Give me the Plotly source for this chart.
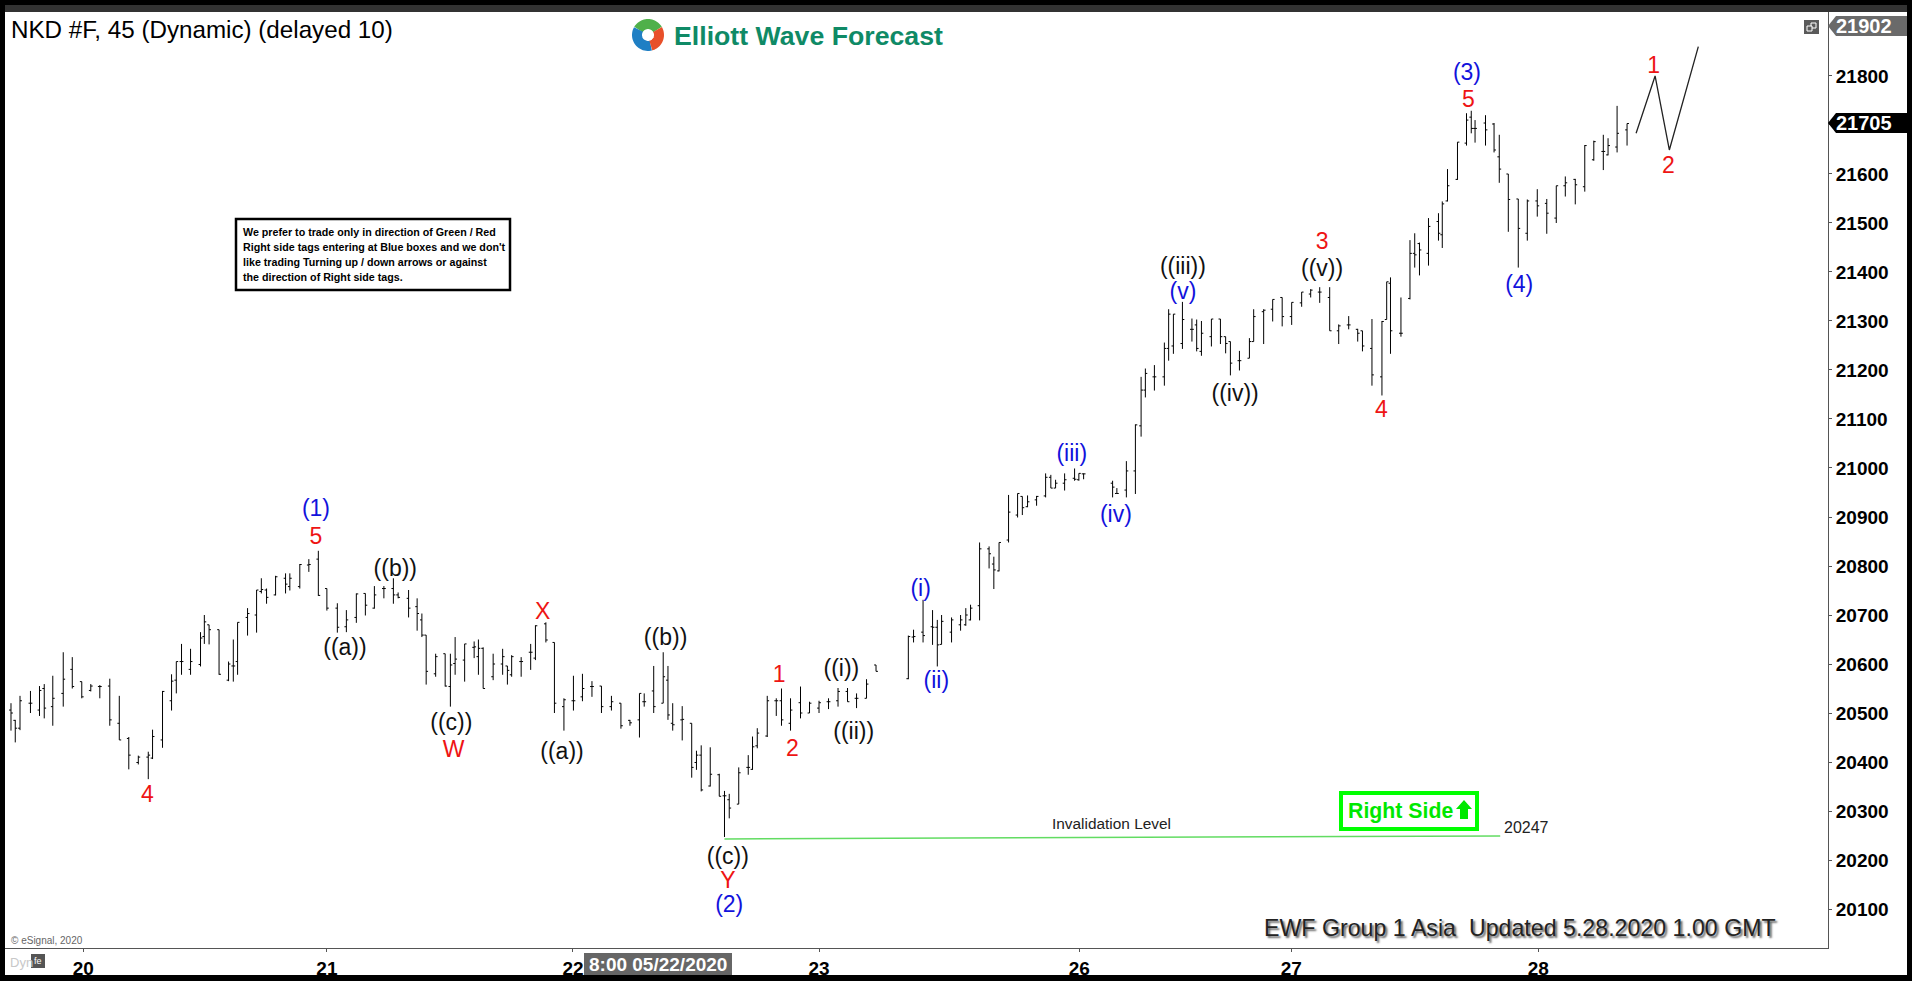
import math
import plotly.graph_objects as go

# ---------- data ----------
bar_x = [2.0,2.9,3.9,6.1,8.0,9.0,10.8,13.0,14.9,16.9,18.8,20.7,22.8,24.8,26.8,28.8,30.9,31.8,33.9,35.8,36.8,37.9,39.8,41.9,42.7,43.7,45.8,47.8,48.8,49.7,51.8,53.7,54.7,55.8,57.7,59.8,60.7,62.8,64.7,66.7,68.5,70.7,72.6,74.7,76.6,78.5,80.5,82.5,83.5,
85.7,87.5,88.5,89.4,91.4,93.4,94.5,95.5,97.5,99.5,100.4,101.4,103.5,105.5,106.5,107.4,109.4,111.4,112.4,114.6,116.4,118.4,120.4,122.3,124.3,126.3,128.4,130.4,132.3,134.3,135.3,137.3,139.3,140.3,141.3,143.3,145.3,146.3,147.3,149.2,151.1,152.2,153.2,155.2,157.2,158.1,159.1,161.2,163.1,164.2,166.1,
168.2,170.1,172.1,174.1,176.1,178.1,180.0,182.1,184.1,190.9,192.0,194.0,196.0,197.0,197.9,200.0,201.9,203.0,204.0,205.9,207.9,208.9,210.0,212.0,213.9,214.9,216.0,217.9,219.8,220.9,221.9,223.8,225.9,226.8,227.8,233.9,234.8,236.8,238.7,
239.9,240.8,242.7,244.8,245.7,246.7,248.6,250.6,251.6,252.6,254.7,256.6,257.7,258.7,260.6,262.7,263.6,265.7,267.6,269.6,271.6,273.7,275.6,277.5,279.6,281.5,283.6,285.5,286.5,288.5,290.6,291.6,292.4,294.6,296.5,297.5,298.5,
300.4,302.5,303.3,304.4,306.5,308.4,309.4,310.2,312.4,314.2,315.3,317.2,319.3,321.2,323.3,325.3,327.3,329.2,331.3,333.3,335.2,337.2,338.2,340.1,342.2]

bar_open = [20506,20485,20469,20520,20506,20550,20513,20540,20589,20564,20546,20554,20555,20479,20448,20399,20410,20408,20445,20525,20567,20605,20589,20599,20656,20680,20670,20567,20596,20605,20695,20700,20748,20751,20741,20775,20758,20758,20802,20814,20754,20714,20676,20695,20744,20714,20754,20754,20741,
20734,20717,20690,20659,20580,20621,20554,20601,20608,20634,20615,20632,20574,20600,20596,20578,20605,20624,20612,20682,20644,20513,20525,20533,20554,20555,20513,20520,20485,20486,20523,20545,20520,20567,20479,20486,20479,20399,20414,20351,20374,20331,20323,20314,20389,20385,20433,20453,20525,20525,20479,
20521,20500,20510,20523,20525,20544,20530,20530,20598,20570,20655,20665,20676,20675,20640,20665,20680,20680,20690,20719,20835,20804,20790,20853,20904,20942,20921,20935,20943,20981,20959,20969,20979,20976,20988,20969,20948,20955,20994,
21086,21159,21186,21186,21244,21249,21254,21283,21292,21238,21268,21304,21268,21258,21219,21224,21258,21319,21324,21348,21309,21337,21355,21359,21348,21280,21292,21283,21280,21244,21186,21303,21377,21275,21346,21438,21458,
21438,21503,21476,21545,21589,21663,21716,21693,21704,21702,21635,21600,21549,21479,21545,21540,21510,21576,21589,21574,21629,21646,21639,21655,21690]

bar_high = [20520,20486,20535,20545,20555,20559,20576,20624,20614,20564,20559,20557,20570,20535,20451,20413,20421,20466,20545,20579,20605,20641,20631,20665,20700,20680,20670,20605,20650,20685,20714,20751,20775,20754,20780,20785,20785,20804,20814,20831,20754,20724,20710,20744,20744,20759,20759,20775,20746,
20751,20734,20703,20659,20621,20621,20621,20655,20641,20646,20650,20634,20621,20631,20596,20618,20614,20641,20679,20685,20644,20530,20576,20580,20565,20555,20535,20520,20486,20540,20540,20596,20624,20596,20520,20514,20479,20423,20434,20430,20376,20341,20335,20389,20414,20452,20469,20535,20530,20550,20530,
20554,20523,20525,20530,20551,20551,20540,20569,20598,20658,20670,20731,20710,20690,20700,20695,20700,20714,20721,20848,20840,20819,20848,20945,20948,20942,20944,20943,20989,20986,20976,20989,20999,20989,20989,20974,20959,21014,21089,
21186,21203,21210,21256,21324,21314,21339,21305,21303,21300,21304,21304,21268,21258,21239,21265,21324,21324,21344,21348,21338,21359,21365,21369,21369,21293,21310,21284,21280,21304,21300,21380,21389,21348,21465,21479,21460,
21510,21520,21544,21610,21665,21724,21729,21710,21720,21704,21680,21600,21549,21548,21569,21549,21576,21595,21590,21659,21668,21680,21673,21739,21703]

bar_low = [20464,20440,20465,20500,20494,20489,20474,20513,20550,20530,20544,20530,20474,20445,20385,20395,20365,20406,20429,20505,20540,20578,20578,20595,20641,20640,20578,20565,20564,20578,20658,20664,20744,20723,20740,20744,20750,20754,20788,20739,20709,20664,20665,20684,20699,20713,20734,20723,20734,
20695,20668,20655,20558,20574,20554,20513,20578,20564,20612,20578,20550,20567,20578,20558,20574,20574,20588,20608,20644,20500,20464,20505,20524,20533,20500,20505,20468,20474,20450,20513,20500,20520,20486,20464,20444,20368,20384,20340,20350,20330,20247,20285,20314,20374,20384,20428,20451,20494,20474,20464,
20489,20500,20500,20508,20513,20523,20510,20530,20585,20569,20644,20644,20639,20595,20640,20644,20668,20678,20689,20689,20795,20753,20789,20848,20899,20904,20920,20923,20940,20959,20959,20954,20974,20974,20977,20940,20948,20940,20947,
21064,21144,21158,21168,21219,21233,21243,21258,21238,21229,21248,21253,21234,21189,21199,21224,21258,21253,21299,21289,21292,21329,21348,21337,21280,21253,21283,21258,21238,21168,21148,21303,21233,21268,21344,21409,21393,
21413,21464,21449,21544,21588,21658,21683,21664,21658,21644,21582,21482,21409,21464,21513,21478,21500,21554,21538,21564,21627,21608,21638,21644,21658]

bar_close = [20500,20469,20525,20520,20546,20510,20530,20569,20554,20533,20555,20554,20486,20445,20414,20410,20414,20452,20544,20565,20605,20605,20605,20653,20686,20670,20579,20600,20596,20685,20703,20751,20752,20736,20778,20763,20775,20803,20803,20740,20714,20675,20690,20743,20720,20741,20754,20741,20736,
20714,20703,20659,20585,20615,20555,20598,20610,20641,20635,20632,20550,20600,20615,20587,20615,20605,20624,20678,20649,20520,20527,20525,20550,20554,20513,20523,20474,20480,20540,20523,20513,20574,20496,20476,20487,20389,20414,20343,20375,20330,20331,20306,20378,20389,20431,20459,20525,20525,20486,20506,
20500,20520,20521,20523,20544,20523,20530,20559,20585,20656,20656,20658,20675,20639,20687,20690,20690,20700,20714,20835,20825,20792,20848,20910,20948,20919,20931,20942,20981,20959,20969,20976,20977,20989,20988,20961,20948,20994,21088,
21159,21193,21186,21244,21314,21314,21303,21283,21244,21275,21304,21268,21254,21214,21219,21258,21309,21322,21344,21309,21338,21359,21363,21359,21280,21290,21292,21275,21249,21190,21299,21380,21280,21275,21438,21435,21445,
21493,21479,21539,21576,21665,21710,21693,21693,21690,21649,21610,21548,21489,21545,21535,21520,21576,21582,21578,21658,21666,21646,21658,21683,21703]

forecast_x = [344.1, 348.1, 351.1, 357.2]
forecast_y = [21683, 21800, 21649, 21860]

invalidation_x = [152.2, 315.5]
invalidation_y = [20243, 20249]

day_positions = [17.2, 68.5, 120.3, 172.1, 226.9, 271.5, 323.5]
day_labels = ["20", "21", "22", "23", "26", "27", "28"]
price_ticks = [20100,20200,20300,20400,20500,20600,20700,20800,20900,21000,21100,21200,21300,21400,21500,21600,21700,21800]

wave_text = ["(1)","5","4","((a))","((b))","((c))","W","X","((a))","((b))","((c))","Y","(2)","1","2","((i))","((ii))","(i)","(ii)","(iii)","(iv)","((iii))","(v)","((iv))","3","((v))","4","5","(3)","(4)","1","2"]
wave_x = [66.2,66.2,30.7,72.3,82.9,94.7,95.2,113.9,118.0,139.8,152.9,152.9,153.2,163.7,166.5,176.8,179.4,193.5,196.8,225.3,234.6,248.7,248.7,259.7,278.0,278.0,290.5,308.8,308.5,319.5,347.8,350.9]
wave_y = [20913,20856,20331,20630,20791,20478,20421,20704,20418,20650,20204,20155,20105,20575,20423,20587,20458,20751,20562,21025,20901,21408,21356,21149,21458,21403,21115,21749,21803,21371,21818,21614]
BLUE, RED, BLACK = "#1212dc", "#ee1414", "#111111"
wave_color = [BLUE,RED,RED,BLACK,BLACK,BLACK,RED,RED,BLACK,BLACK,BLACK,RED,BLUE,RED,RED,BLACK,BLACK,BLUE,BLUE,BLUE,BLUE,BLACK,BLUE,BLACK,RED,BLACK,RED,RED,BLUE,BLUE,RED,RED]

# ---------- layout geometry ----------
W, H = 1912, 981
L, R, T, B = 5, 1828, 12, 948
def fx(px): return (px - L) / (R - L)
def fy(py): return (B - py) / (B - T)
FONT = "Liberation Sans"

fig = go.Figure()
fig.add_trace(go.Ohlc(
    x=bar_x, open=bar_open, high=bar_high, low=bar_low, close=bar_close,
    increasing=dict(line=dict(color="black", width=1)),
    decreasing=dict(line=dict(color="black", width=1)),
    tickwidth=0.5, hoverinfo="skip", showlegend=False))
fig.add_trace(go.Scatter(x=forecast_x, y=forecast_y, mode="lines",
                         line=dict(color="#222222", width=1.3), hoverinfo="skip", showlegend=False))
fig.add_trace(go.Scatter(x=invalidation_x, y=invalidation_y, mode="lines",
                         line=dict(color="#62dc62", width=1.5), hoverinfo="skip", showlegend=False))
fig.add_trace(go.Scatter(x=wave_x, y=wave_y, mode="text", text=wave_text,
                         textposition="middle center",
                         textfont=dict(family=FONT, size=23, color=wave_color),
                         hoverinfo="skip", showlegend=False))

shapes = []
def rect(x0, y0, x1, y1, fill=None, line=None, lw=0, layer="above"):
    shapes.append(dict(type="rect", xref="paper", yref="paper", x0=fx(x0), x1=fx(x1), y0=fy(y0), y1=fy(y1),
                       fillcolor=fill if fill else "rgba(0,0,0,0)",
                       line=dict(color=line if line else "rgba(0,0,0,0)", width=lw), layer=layer))
def poly(points, fill=None, line=None, lw=0, close=True):
    d = "M " + " L ".join(f"{fx(a):.5f},{fy(b):.5f}" for a, b in points) + (" Z" if close else "")
    shapes.append(dict(type="path", xref="paper", yref="paper", path=d,
                       fillcolor=fill if fill else "rgba(0,0,0,0)",
                       line=dict(color=line if line else "rgba(0,0,0,0)", width=lw), layer="above"))
def arc(cx, cy, r, a0, a1, color, lw):
    n = 24
    pts = [(cx + r * math.cos(math.radians(a0 + (a1 - a0) * i / n)),
            cy - r * math.sin(math.radians(a0 + (a1 - a0) * i / n))) for i in range(n + 1)]
    poly(pts, line=color, lw=lw, close=False)

# window frame
rect(0, 0, W, 5, fill="black")
rect(5, 5, 1907, 12, fill="#333333")
rect(0, 0, 5, H, fill="black")
rect(1907, 0, W, H, fill="black")
rect(0, 975, W, H, fill="black")

# price tags on the axis
poly([(1828, 26), (1836, 16), (1907, 16), (1907, 36), (1836, 36)], fill="#6a6a6a")
poly([(1828, 123), (1836, 113), (1907, 113), (1907, 133), (1836, 133)], fill="#000000")
# window icon
rect(1804, 20, 1819, 34, fill="#5a5a5a")
rect(1811, 23, 1816, 28, line="white", lw=1)
rect(1807, 26, 1812, 31, fill="#5a5a5a", line="white", lw=1)

# note box
rect(236, 219, 510, 290, fill="white", line="black", lw=2.5)

# right side box
rect(1341, 793, 1477, 829, line="#00ff00", lw=4)
poly([(1464, 800), (1472, 809), (1468, 809), (1468, 819), (1460, 819), (1460, 809), (1456, 809)], fill="#00e800")

# bottom widgets
rect(584, 953, 732, 975, fill="#666666")
rect(31, 954, 45, 968, fill="#555555")

# logo
arc(648, 35, 11, 30, 150, "#4fb04a", 10)
arc(648, 35, 11, 150, 285, "#1f7fc4", 10)
arc(648, 35, 11, 285, 390, "#e8502a", 10)

ann = []
def label(px, py, text, size, color="#000000", xanchor="center", family=FONT, bold=False, **font_extra):
    ann.append(dict(xref="paper", yref="paper", x=fx(px), y=fy(py), text=text, showarrow=False,
                    xanchor=xanchor, yanchor="middle", align="left",
                    font=dict(family=family, size=size, color=color, weight=700 if bold else 400, **font_extra)))

label(9, 29, "NKD #F, 45 (Dynamic) (delayed 10)", 24.2, xanchor="left")
label(672, 36, "Elliott Wave Forecast", 26.7, color="#0f8a66", xanchor="left", bold=True)
note_lines = ["We prefer to trade only in direction of Green / Red",
              "Right side tags entering at Blue boxes and we don't",
              "like trading Turning up / down arrows or against",
              "the direction of Right side tags."]
for py, t in zip([232, 247, 262, 277], note_lines):
    label(241, py, t, 10.7, xanchor="left", bold=True)
label(1864, 26, "21902", 20, color="white", bold=True)
label(1864, 123, "21705", 20, color="white", bold=True)
label(1111, 823, "Invalidation Level", 15.4, color="#222222")
label(1502, 827, "20247", 16, color="#222222", xanchor="left")
label(1346, 811, "Right Side", 21.3, color="#00e800", xanchor="left", bold=True)
label(1262, 928, "EWF Group 1 Asia&nbsp;&nbsp;Updated 5.28.2020 1.00 GMT", 23.2, color="#222222", xanchor="left",
      shadow="2px 2px 2px #666666")
label(9, 940, "© eSignal, 2020", 10, color="#666666", xanchor="left")
label(8, 962, "Dyn", 13, color="#c8c8c8", xanchor="left")
label(38, 961, "fe", 9, color="white")
label(658, 964, "8:00 05/22/2020", 19, color="white", bold=True)

fig.update_layout(
    width=W, height=H, margin=dict(l=L, r=W - R, t=T, b=H - B),
    paper_bgcolor="white", plot_bgcolor="white", showlegend=False,
    shapes=shapes, annotations=ann,
    xaxis=dict(range=[0.74, 384.5], type="linear", rangeslider=dict(visible=False), showgrid=False, zeroline=False,
               automargin=False,
               tickmode="array", tickvals=day_positions, ticktext=day_labels, ticks="outside", ticklen=3,
               tickcolor="#555555", showline=True, linecolor="#555555", linewidth=1,
               tickfont=dict(family=FONT, size=19, color="black", weight=700)),
    yaxis=dict(range=[20020.4, 21930.6], side="right", showgrid=False, zeroline=False,
               automargin=False,
               tickmode="array", tickvals=price_ticks, ticktext=[str(v) for v in price_ticks],
               ticks="outside", ticklen=3, tickcolor="#555555", showline=True, linecolor="#555555", linewidth=1,
               tickfont=dict(family=FONT, size=19, color="black", weight=700)),
)

fig.write_html("out.html", config=dict(displayModeBar=False),
               post_script="document.body.style.margin='0';document.body.style.overflow='hidden';")
